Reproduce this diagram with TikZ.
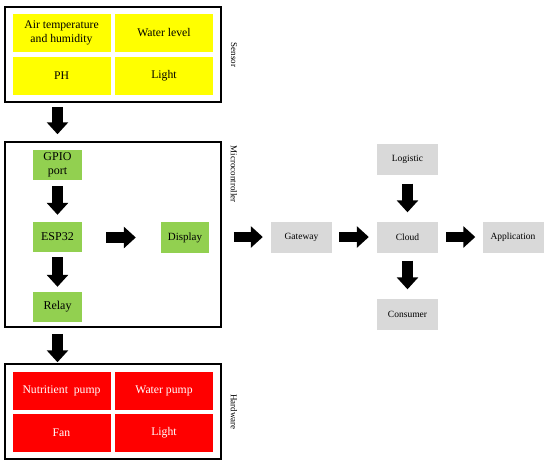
\documentclass[tikz,border=0pt]{standalone}
\usepackage{fontspec}
\setmainfont{Liberation Serif}
\usepackage{xcolor}
\usepackage{tikz}
\usetikzlibrary{calc,arrows.meta,positioning}
\definecolor{senc}{HTML}{FFFF00}
\definecolor{micc}{HTML}{92D050}
\definecolor{hwc}{HTML}{FF0000}
\definecolor{netc}{HTML}{D9D9D9}
\tikzset{
  blk/.style={-{Triangle[length=12pt,width=21pt]},line width=10.5pt,black},
  grp/.style={draw=black,line width=1.5pt,minimum width=216pt,inner sep=0pt},
  cell/.style={minimum width=98pt,minimum height=38pt,inner sep=0pt,align=center,font=\fontsize{11.7}{13.5}\selectfont},
  mc/.style={fill=micc,minimum width=49pt,minimum height=30pt,inner sep=0pt,align=center,font=\fontsize{12}{14}\selectfont},
  net/.style={fill=netc,minimum width=61pt,minimum height=31pt,inner sep=0pt,font=\fontsize{9.5}{11}\selectfont},
  side/.style={rotate=-90,font=\fontsize{9}{11}\selectfont}
}
\begin{document}
\begin{tikzpicture}[x=1pt,y=-1pt]
\useasboundingbox (0,0) rectangle (550,469);
\node[grp,minimum height=95pt] (sensor) at (113,54.5) {};
\node[cell,fill=senc] (airt) at (61.5,33) {Air temperature\\and humidity};
\node[cell,fill=senc] (wlev) at (164,33) {Water level};
\node[cell,fill=senc] (ph) at (61.5,76) {PH};
\node[cell,fill=senc] (slight) at (164,76) {Light};
\node[side] (senlab) at (234,55) {Sensor};
\node[grp,minimum height=185pt] (micro) at (113,234.5) {};
\node[mc] (gpio) at (57.5,165) {GPIO\\port};
\node[mc] (esp) at (57.5,237) {ESP32};
\node[mc] (relay) at (57.5,307) {Relay};
\node[mc,minimum width=48pt,minimum height=31pt,font=\fontsize{11}{13}\selectfont] (disp) at (185,237.5) {Display};
\node[side] (miclab) at (234,174) {Microcontroller};
\node[grp,minimum height=95pt] (hw) at (113,411.5) {};
\node[cell,fill=hwc,text=white] (npump) at (61.5,390.5) {Nutritient\ \ pump};
\node[cell,fill=hwc,text=white] (wpump) at (164,390.5) {Water pump};
\node[cell,fill=hwc,text=white] (fan) at (61.5,433) {Fan};
\node[cell,fill=hwc,text=white] (hlight) at (164,433) {Light};
\node[side] (hwlab) at (234,412) {Hardware};
\node[net] (gw) at (301.5,237) {Gateway};
\node[net] (cloud) at (407.5,237) {Cloud};
\node[net] (app) at (513,237) {Application};
\node[net] (logi) at (407.5,159) {Logistic};
\node[net] (cons) at (407.5,314) {Consumer};
\draw[blk,shorten <=4pt,shorten >=7pt] (sensor.south -| gpio) -- (micro.north -| gpio);
\draw[blk,shorten <=6pt,shorten >=7pt] (gpio) -- (esp);
\draw[blk,shorten <=5pt,shorten >=5pt] (esp) -- (relay);
\draw[blk,shorten <=24pt,shorten >=25pt] (esp.east |- disp) -- (disp);
\draw[blk,shorten <=6pt,shorten >=1pt] (micro.south -| relay) -- (hw.north -| relay);
\draw[blk,shorten <=12pt,shorten >=8pt] (micro.east |- gw) -- (gw);
\draw[blk,shorten <=7pt,shorten >=8pt] (gw) -- (cloud);
\draw[blk,shorten <=8pt,shorten >=7pt] (cloud) -- (app);
\draw[blk,shorten <=9pt,shorten >=9pt] (logi) -- (cloud);
\draw[blk,shorten <=8pt,shorten >=9pt] (cloud) -- (cons);
\end{tikzpicture}
\end{document}
